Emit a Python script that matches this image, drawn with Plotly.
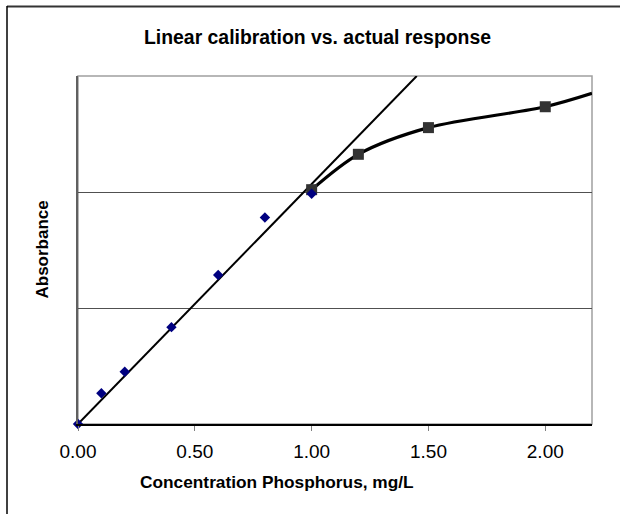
import plotly.graph_objects as go

# ---- data ----
std_conc = [0.0, 0.1, 0.2, 0.4, 0.6, 0.8, 1.0]
std_abs = [0.0, 0.053, 0.090, 0.167, 0.257, 0.356, 0.397]

calib_conc = [0.0, 1.45]
calib_abs = [0.0, 0.600]

actual_conc = [1.0, 1.2, 1.5, 2.0]
actual_abs = [0.404, 0.465, 0.511, 0.547]

curve_conc = [1.0, 1.2, 1.5, 2.0, 2.2]
curve_abs = [0.404, 0.465, 0.511, 0.547, 0.570]

x_ticks = [0.0, 0.5, 1.0, 1.5, 2.0]
x_labels = ["0.00", "0.50", "1.00", "1.50", "2.00"]

# ---- layout geometry (pixels) ----
W, H = 620, 514
ML, MR, MT, MB = 78, 28, 76, 90
PW, PH = W - ML - MR, H - MT - MB


def px(x):
    return (x - ML) / PW


def py(y):
    return (H - MB - y) / PH


font = "Liberation Sans, Arial, sans-serif"

fig = go.Figure()

fig.add_trace(go.Scatter(x=calib_conc, y=calib_abs, mode="lines",
                         line=dict(color="black", width=2), hoverinfo="skip"))
fig.add_trace(go.Scatter(x=curve_conc, y=curve_abs, mode="lines",
                         line=dict(color="black", width=3.2, shape="spline", smoothing=0.9)))
fig.add_trace(go.Scatter(x=actual_conc, y=actual_abs, mode="markers",
                         marker=dict(symbol="square", size=11, color="#333333")))
fig.add_trace(go.Scatter(x=std_conc, y=std_abs, mode="markers", cliponaxis=False,
                         marker=dict(symbol="diamond", size=8, color="#000080")))

shapes = [
    dict(type="rect", xref="paper", yref="paper", x0=0, y0=0, x1=1, y1=1,
         line=dict(color="#a0a0a0", width=1.5), layer="below"),
    dict(type="line", xref="paper", yref="paper", x0=px(7), x1=px(620), y0=py(6.5), y1=py(6.5),
         line=dict(color="#333333", width=2)),
    dict(type="line", xref="paper", yref="paper", x0=px(7), x1=px(7), y0=py(6), y1=py(514),
         line=dict(color="black", width=1.5)),
]

annotations = [
    dict(text="<b>Linear calibration vs. actual response</b>", xref="paper", yref="paper",
         x=px(317), y=py(37), showarrow=False, xanchor="center", yanchor="middle",
         font=dict(family=font, size=19.4, color="black")),
    dict(text="<b>Concentration Phosphorus, mg/L</b>", xref="paper", yref="paper",
         x=px(276.5), y=py(482), showarrow=False, xanchor="center", yanchor="middle",
         font=dict(family=font, size=17.3, color="black")),
    dict(text="<b>Absorbance</b>", xref="paper", yref="paper", textangle=-90,
         x=px(41.5), y=py(250), showarrow=False, xanchor="center", yanchor="middle",
         font=dict(family=font, size=17, color="black")),
]

fig.update_layout(
    width=W, height=H, autosize=False,
    margin=dict(l=ML, r=MR, t=MT, b=MB, pad=0),
    paper_bgcolor="white", plot_bgcolor="white",
    showlegend=False,
    shapes=shapes, annotations=annotations,
    xaxis=dict(range=[0, 2.2], tickvals=x_ticks, ticktext=x_labels,
               ticks="outside", ticklen=5, tickcolor="#808080", tickwidth=1,
               ticklabelstandoff=4,
               showgrid=False, zeroline=False, showline=True, linecolor="black", linewidth=1.5,
               tickfont=dict(family=font, size=19, color="black")),
    yaxis=dict(range=[0, 0.6], tickvals=[0.2, 0.4], showticklabels=False,
               showgrid=True, gridcolor="#505050", gridwidth=1, zeroline=False,
               showline=True, linecolor="#606060", linewidth=1.5),
)

fig.write_html("out.html", config={"displayModeBar": False},
               post_script="document.body.style.margin='0';document.body.style.overflow='hidden';")
